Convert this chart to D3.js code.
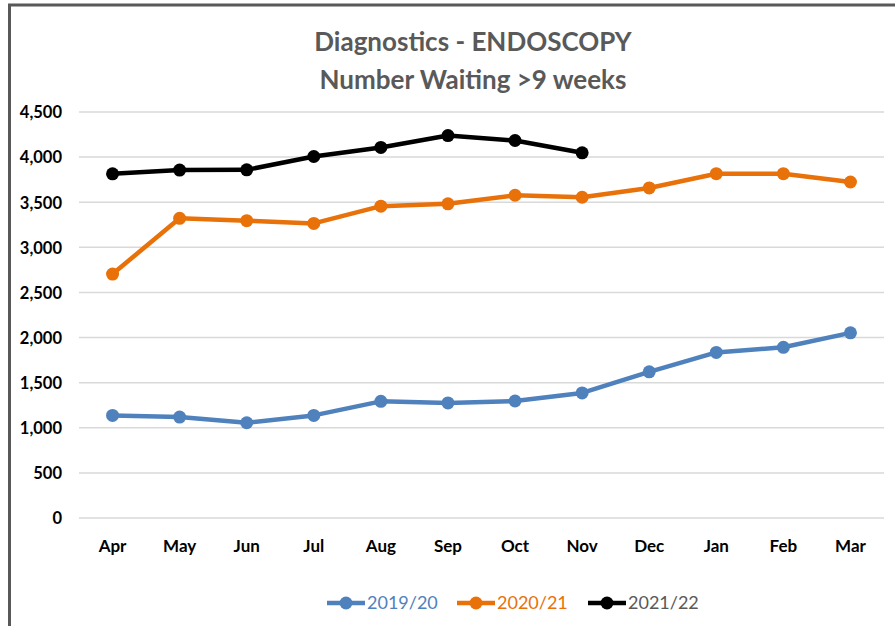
<!DOCTYPE html>
<html>
<head>
<meta charset="utf-8">
<script src="https://cdn.jsdelivr.net/npm/d3@7"></script>
<style>
  html, body { margin: 0; padding: 0; background: #fff; }
  svg { display: block; }
  text { font-family: Lato, "Open Sans", sans-serif; }
</style>
</head>
<body>
<svg id="chart" width="895" height="626"></svg>
<script>
const months = ["Apr","May","Jun","Jul","Aug","Sep","Oct","Nov","Dec","Jan","Feb","Mar"];
const series2019 = [1137,1119,1056,1137,1293,1275,1297,1386,1620,1835,1892,2052];
const series2020 = [2704,3322,3296,3265,3456,3482,3577,3555,3658,3816,3816,3724];
const series2021 = [3815,3856,3859,4007,4107,4239,4184,4048];
const seriesNames = ["2019/20","2020/21","2021/22"];
const seriesColors = ["#4F81BD","#E8710A","#000000"];
const legendTextColors = ["#4F81BD","#E8710A","#595959"];
const yTicks = [0,500,1000,1500,2000,2500,3000,3500,4000,4500];
const titleLines = ["Diagnostics - ENDOSCOPY","Number Waiting >9 weeks"];

const svg = d3.select("#chart");
const W = 895, H = 626;

// outer frame
svg.append("rect").attr("x",9.5).attr("y",5).attr("width",W).attr("height",H)
  .attr("fill","none").attr("stroke","#595959").attr("stroke-width",3);

const x = d3.scaleBand().domain(months).range([79,884]);
const y = d3.scaleLinear().domain([0,4500]).range([518,112]);

// gridlines
svg.append("g").selectAll("line").data(yTicks).join("line")
  .attr("x1",79).attr("x2",884)
  .attr("y1",d=>y(d)).attr("y2",d=>y(d))
  .attr("stroke","#d9d9d9").attr("stroke-width",1.5);

// y axis labels
const yAxis = d3.axisLeft(y).tickValues(yTicks).tickFormat(d3.format(",")).tickSize(0).tickPadding(0);
const gy = svg.append("g").attr("transform","translate(62,0)").call(yAxis);
gy.select(".domain").remove();
gy.selectAll("text").attr("font-size",16.5).attr("font-weight","bold").attr("fill","#000")
  .attr("font-family","Lato, sans-serif").attr("dy","0.35em");

// x axis labels
const xAxis = d3.axisBottom(x).tickSize(0).tickPadding(0);
const gx = svg.append("g").attr("transform","translate(0,540)").call(xAxis);
gx.select(".domain").remove();
gx.selectAll("text").attr("font-size",17).attr("font-weight","bold").attr("fill","#000")
  .attr("font-family","Lato, sans-serif");

// title
svg.append("g").selectAll("text").data(titleLines).join("text")
  .attr("x",473).attr("y",(d,i)=>51+i*38)
  .attr("text-anchor","middle").attr("font-size",26).attr("font-weight","bold")
  .attr("fill","#595959").text(d=>d);

// series
const allSeries = [series2019, series2020, series2021];
const line = d3.line().x((d,i)=>x(months[i])+x.bandwidth()/2).y(d=>y(d));
allSeries.forEach((s,k)=>{
  const g = svg.append("g");
  g.append("path").datum(s).attr("d",line).attr("fill","none")
    .attr("stroke",seriesColors[k]).attr("stroke-width",4.5).attr("stroke-linejoin","round");
  g.selectAll("circle").data(s).join("circle")
    .attr("cx",(d,i)=>x(months[i])+x.bandwidth()/2).attr("cy",d=>y(d))
    .attr("r",6.5).attr("fill",seriesColors[k]);
});

// legend
const legendX = [327,457,588];
const lg = svg.append("g");
seriesNames.forEach((n,k)=>{
  const lx = legendX[k], ly = 603;
  lg.append("line").attr("x1",lx).attr("x2",lx+38).attr("y1",ly).attr("y2",ly)
    .attr("stroke",seriesColors[k]).attr("stroke-width",4.5);
  lg.append("circle").attr("cx",lx+19).attr("cy",ly).attr("r",6.5).attr("fill",seriesColors[k]);
  lg.append("text").attr("x",lx+40).attr("y",ly).attr("dy","0.35em")
    .attr("font-size",18).attr("fill",legendTextColors[k]).text(n);
});
</script>
</body>
</html>
